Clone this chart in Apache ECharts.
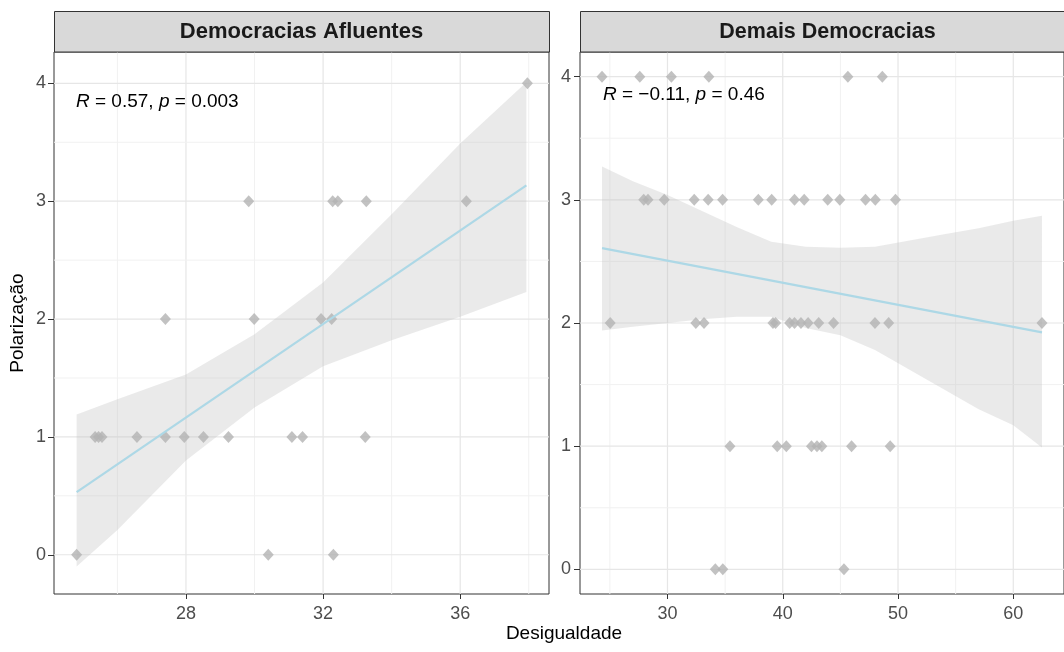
<!DOCTYPE html>
<html><head><meta charset="utf-8">
<script src="https://cdn.jsdelivr.net/npm/echarts@6/dist/echarts.min.js"></script>
<style>html,body{margin:0;padding:0;background:#fff}#c{width:1064px;height:652px}</style>
</head><body><div id="c"></div>
<script>
// ---------- data ----------
const panelTitles = ['Democracias Afluentes', 'Demais Democracias'];
const xTitle = 'Desigualdade';
const yTitle = 'Polarização';
const statLeft = ['0.57', '0.003'];
const statRight = ['\u22120.11', '0.46'];

// Left panel (Democracias Afluentes)
const leftX = [37.96, 29.83, 32.28, 32.43, 33.26, 36.18, 27.40, 29.99, 31.94, 32.25,
  25.35, 25.45, 25.55, 26.57, 27.40, 27.95, 28.51, 29.24, 31.09, 31.40, 33.23,
  24.81, 30.40, 32.30];
const leftY = [4, 3, 3, 3, 3, 3, 2, 2, 2, 2,
  1, 1, 1, 1, 1, 1, 1, 1, 1, 1, 1,
  0, 0, 0];
const leftFitX = [24.81, 37.93];
const leftFitY = [0.531, 3.134];
const leftBandX = [24.81, 26, 28, 30, 32, 34, 36, 37.93];
const leftBandUp = [1.19, 1.32, 1.53, 1.87, 2.31, 2.89, 3.49, 4.01];
const leftBandLo = [-0.10, 0.21, 0.80, 1.25, 1.60, 1.82, 2.02, 2.23];
const leftXTicks = [28, 32, 36];
const leftXMinor = [26, 30, 34, 38];

// Right panel (Demais Democracias)
const rightX = [24.32, 27.6, 30.34, 33.59, 45.65, 48.64,
  27.94, 28.31, 29.72, 32.32, 33.53, 34.78, 37.88, 39.04, 41.02, 41.86, 43.9, 44.95, 47.18, 48.03, 49.78,
  25.03, 32.46, 33.17, 39.15, 39.38, 40.6, 41.02, 41.58, 42.2, 43.12, 44.41, 48.0, 49.19, 62.49,
  35.42, 39.52, 40.31, 42.49, 42.97, 43.39, 45.97, 49.32,
  34.15, 34.8, 45.31];
const rightY = [4, 4, 4, 4, 4, 4,
  3, 3, 3, 3, 3, 3, 3, 3, 3, 3, 3, 3, 3, 3, 3,
  2, 2, 2, 2, 2, 2, 2, 2, 2, 2, 2, 2, 2, 2,
  1, 1, 1, 1, 1, 1, 1, 1,
  0, 0, 0];
const rightFitX = [24.32, 62.49];
const rightFitY = [2.608, 1.924];
const rightBandX = [24.32, 27, 30, 33, 36, 39, 42, 45, 48, 51, 54, 57, 60, 62.49];
const rightBandUp = [3.27, 3.15, 3.04, 2.91, 2.78, 2.66, 2.62, 2.61, 2.62, 2.67, 2.72, 2.77, 2.83, 2.87];
const rightBandLo = [1.94, 1.97, 2.00, 2.03, 2.05, 2.05, 1.96, 1.90, 1.78, 1.62, 1.46, 1.30, 1.17, 0.99];
const rightXTicks = [30, 40, 50, 60];
const rightXMinor = [25, 35, 45, 55];

const yTicks = [0, 1, 2, 3, 4];
const yMinor = [0.5, 1.5, 2.5, 3.5];

// ---------- styling ----------
const FONT = '"Liberation Sans", Arial, sans-serif';
const TICK_COL = '#4D4D4D';
const BORDER = '#333333';

const chart = echarts.init(document.getElementById('c'), null, {renderer: 'canvas'});

function gridLineSeries(gi, xMaj, xMin, yMaj, yMin) {
  const data = [];
  xMaj.forEach(v => data.push([v, yMaj[0], 0, 1]));
  xMin.forEach(v => data.push([v, yMaj[0], 0, 0]));
  yMaj.forEach(v => data.push([xMaj[0], v, 1, 1]));
  yMin.forEach(v => data.push([xMaj[0], v, 1, 0]));
  return {
    type: 'custom', xAxisIndex: gi, yAxisIndex: gi, silent: true, clip: true,
    encode: {x: 0, y: 1}, data: data, z: 1,
    renderItem: function (params, api) {
      const cs = params.coordSys;
      const p = api.coord([api.value(0), api.value(1)]);
      const major = api.value(3) === 1;
      const st = {stroke: major ? '#E6E6E6' : '#F1F1F1', lineWidth: major ? 1.2 : 1};
      if (api.value(2) === 0) {
        return {type: 'line', shape: {x1: p[0], y1: cs.y, x2: p[0], y2: cs.y + cs.height}, style: st};
      }
      return {type: 'line', shape: {x1: cs.x, y1: p[1], x2: cs.x + cs.width, y2: p[1]}, style: st};
    }
  };
}

function bandSeries(gi, bx, up, lo) {
  return {
    type: 'custom', xAxisIndex: gi, yAxisIndex: gi, silent: true, z: 2,
    encode: {x: 0, y: 1}, data: [[bx[0], up[0]]],
    renderItem: function (params, api) {
      const pts = [];
      for (let i = 0; i < bx.length; i++) pts.push(api.coord([bx[i], up[i]]));
      for (let i = bx.length - 1; i >= 0; i--) pts.push(api.coord([bx[i], lo[i]]));
      return {type: 'polygon', shape: {points: pts}, style: {fill: 'rgba(190,190,190,0.33)'}};
    }
  };
}

function scatterSeries(gi, xs, ys) {
  return {
    type: 'scatter', xAxisIndex: gi, yAxisIndex: gi, symbol: 'diamond', symbolSize: [11, 12],
    itemStyle: {color: '#B3B3B3'}, z: 3,
    data: xs.map((x, i) => [x, ys[i]])
  };
}

function fitSeries(gi, xs, ys) {
  return {
    type: 'line', xAxisIndex: gi, yAxisIndex: gi, symbol: 'none', z: 4,
    lineStyle: {color: '#ADD8E6', width: 2.2},
    data: xs.map((x, i) => [x, ys[i]])
  };
}

function xAxisCfg(gi, min, max, ticks) {
  return {
    type: 'value', gridIndex: gi, min: min, max: max,
    axisLine: {show: false, onZero: false},
    axisTick: {show: true, length: 5, customValues: ticks, lineStyle: {color: BORDER}},
    axisLabel: {customValues: ticks, margin: 11, color: TICK_COL, fontSize: 18, fontFamily: FONT},
    splitLine: {show: false}
  };
}
function yAxisCfg(gi, min, max, margin) {
  return {
    type: 'value', gridIndex: gi, min: min, max: max,
    axisLine: {show: false, onZero: false},
    axisTick: {show: true, length: 6, customValues: yTicks, lineStyle: {color: BORDER}},
    axisLabel: {customValues: yTicks, margin: margin, color: TICK_COL, fontSize: 18, fontFamily: FONT},
    splitLine: {show: false}
  };
}

const richStat = {i: {fontStyle: 'italic', fontSize: 19, fontFamily: FONT, fill: '#000', color: '#000'}};

const option = {
  animation: false,
  backgroundColor: '#fff',
  grid: [
    {left: 54, top: 52, width: 495, height: 542, show: true, backgroundColor: '#fff', borderColor: BORDER, borderWidth: 1},
    {left: 580, top: 52, width: 495, height: 542, show: true, backgroundColor: '#fff', borderColor: BORDER, borderWidth: 1}
  ],
  xAxis: [xAxisCfg(0, 24.15, 38.59, leftXTicks), xAxisCfg(1, 22.41, 64.4, rightXTicks)],
  yAxis: [yAxisCfg(0, -0.333, 4.266, 8), yAxisCfg(1, -0.2, 4.2, 9)],
  series: [
    gridLineSeries(0, leftXTicks, leftXMinor, yTicks, yMinor),
    gridLineSeries(1, rightXTicks, rightXMinor, yTicks, yMinor),
    bandSeries(0, leftBandX, leftBandUp, leftBandLo),
    bandSeries(1, rightBandX, rightBandUp, rightBandLo),
    scatterSeries(0, leftX, leftY),
    scatterSeries(1, rightX, rightY),
    fitSeries(0, leftFitX, leftFitY),
    fitSeries(1, rightFitX, rightFitY)
  ],
  graphic: [
    {type: 'rect', shape: {x: 54.5, y: 11.5, width: 495, height: 40.5}, style: {fill: '#D9D9D9', stroke: BORDER, lineWidth: 1}, z: 10},
    {type: 'rect', shape: {x: 580.5, y: 11.5, width: 500, height: 40.5}, style: {fill: '#D9D9D9', stroke: BORDER, lineWidth: 1}, z: 10},
    {type: 'text', x: 301.5, y: 32, z: 11, style: {text: panelTitles[0], fill: '#1A1A1A', fontSize: 22, fontWeight: 'bold', fontFamily: FONT, align: 'center', verticalAlign: 'middle'}},
    {type: 'text', x: 827.5, y: 32, z: 11, style: {text: panelTitles[1], fill: '#1A1A1A', fontSize: 21.5, fontWeight: 'bold', fontFamily: FONT, align: 'center', verticalAlign: 'middle'}},
    {type: 'text', x: 76, y: 102, z: 11, style: {text: '{i|R} = ' + statLeft[0] + ', {i|p} = ' + statLeft[1], fill: '#000', fontSize: 19, fontFamily: FONT, align: 'left', verticalAlign: 'middle', rich: richStat}},
    {type: 'text', x: 603, y: 95, z: 11, style: {text: '{i|R} = ' + statRight[0] + ', {i|p} = ' + statRight[1], fill: '#000', fontSize: 19, fontFamily: FONT, align: 'left', verticalAlign: 'middle', rich: richStat}},
    {type: 'text', x: 564, y: 634, z: 11, style: {text: xTitle, fill: '#000', fontSize: 19, fontFamily: FONT, align: 'center', verticalAlign: 'middle'}},
    {type: 'text', x: 18, y: 323, rotation: Math.PI / 2, z: 11, style: {text: yTitle, fill: '#000', fontSize: 19, fontFamily: FONT, align: 'center', verticalAlign: 'middle'}}
  ]
};
chart.setOption(option);
</script>
</body></html>
